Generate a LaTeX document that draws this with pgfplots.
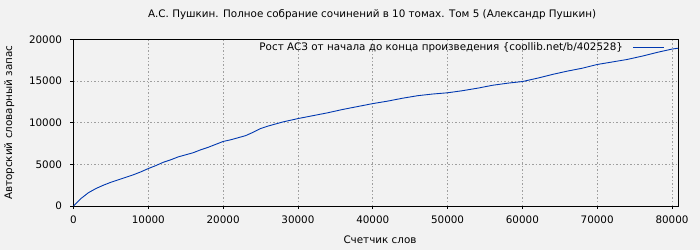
\documentclass[border=0pt]{standalone}
\usepackage{pgfplots}
\pgfplotsset{compat=1.18}
\usepackage{fontspec}
\setmainfont{DejaVu Sans}
\definecolor{bg}{HTML}{F2F2F2}
\definecolor{ln}{HTML}{0038B0}
\begin{document}
\begin{tikzpicture}
\fill[bg] (-73.5bp,-44bp) rectangle (626.5bp,206bp);
\begin{axis}[
  at={(0,0)}, anchor=south west,
  scale only axis, width=604.5bp, height=166.5bp,
  xmin=0, xmax=80800, ymin=0, ymax=20000,
  xtick={0,10000,...,80000}, ytick={0,5000,...,20000},
  scaled ticks=false,
  /pgf/number format/assume math mode=true,
  /pgf/number format/1000 sep={},
  tick label style={font=\fontsize{10.4}{12}\selectfont},
  xticklabel style={yshift=-3bp},
  yticklabel style={xshift=-5bp},
  label style={font=\fontsize{10.4}{12}\selectfont},
  tick align=outside, major tick length=3bp,
  xtick pos=bottom, ytick pos=left,
  tick style={black, line width=0.8pt},
  grid=major, major grid style={gray!75, dash pattern=on 1.5bp off 2bp, line width=0.7pt},
  axis line style={black, line width=0.9pt},
  xlabel={Счетчик слов}, ylabel={Авторский словарный запас},
  xlabel style={at={(axis description cs:0.507,-0.2282)}, anchor=base},
  ylabel style={at={(axis description cs:-0.1017,0.5)}, anchor=base},
  title={А.С. Пушкин. Полное собрание сочинений в 10 томах. Том 5 (Александр Пушкин)},
  title style={font=\fontsize{10.4}{12}\selectfont, at={(axis description cs:0.494,1.0973)}, anchor=base},
  legend plot pos=right,
  legend image code/.code={\draw[#1] (0bp,0bp) -- (31bp,0bp);},
  legend style={at={(axis description cs:0.9785,0.955)}, anchor=east, draw=none, fill=none,
    font=\fontsize{10.4}{12}\selectfont, inner sep=0pt, nodes={inner sep=0pt}},
]
\addplot[ln, line width=0.9pt] table {
0 0
500 450
1000 900
2000 1600
3000 2100
4000 2500
5000 2850
6000 3150
7000 3450
8000 3750
9000 4100
10000 4500
11000 4850
12000 5250
13000 5550
14000 5900
15000 6150
16000 6400
17000 6750
18000 7050
19000 7400
20000 7750
21000 7950
22000 8200
23000 8450
24000 8850
25000 9300
26000 9600
27000 9850
28000 10100
29000 10300
30000 10500
32000 10850
34000 11200
36000 11600
38000 11950
40000 12300
42000 12600
44000 12950
46000 13250
48000 13450
50000 13600
52000 13850
54000 14150
56000 14500
58000 14750
60000 14950
62000 15350
64000 15800
66000 16200
68000 16550
70000 17000
72000 17300
74000 17600
76000 18000
78000 18450
80000 18850
80800 18950
};
\addlegendentry{Рост АСЗ от начала до конца произведения \{coollib.net/b/402528\}\kern10bp}
\end{axis}
\end{tikzpicture}
\end{document}
